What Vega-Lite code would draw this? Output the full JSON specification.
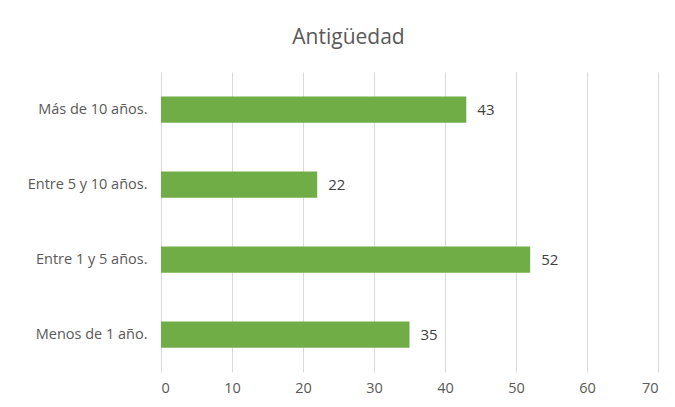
{
  "$schema": "https://vega.github.io/schema/vega-lite/v6.json",
  "width": 497,
  "height": 300,
  "autosize": {"type": "none"},
  "padding": {"left": 161, "top": 72, "right": 17, "bottom": 35},
  "background": "white",
  "title": {"text": "Antigüedad", "font": "Open Sans", "fontSize": 21, "fontWeight": "normal", "color": "#595959", "anchor": "middle", "frame": "group", "dx": -61, "offset": 24},
  "data": {"values": [
    {"cat": "Más de 10 años.", "value": 43},
    {"cat": "Entre 5 y 10 años.", "value": 22},
    {"cat": "Entre 1 y 5 años.", "value": 52},
    {"cat": "Menos de 1 año.", "value": 35}
  ]},
  "encoding": {
    "y": {"field": "cat", "type": "nominal", "sort": null, "title": null,
      "scale": {"paddingInner": 0.65, "paddingOuter": 0.325},
      "axis": {"domain": false, "ticks": false, "labelFont": "Open Sans", "labelFontSize": 14.5, "labelColor": "#595959", "labelPadding": 14}},
    "x": {"field": "value", "type": "quantitative", "title": null,
      "scale": {"domain": [0, 70], "nice": false},
      "axis": {"values": [0,10,20,30,40,50,60,70], "domain": false, "ticks": false, "grid": true, "gridColor": "#d9d9d9", "labelFont": "Open Sans", "labelFontSize": 14.5, "labelColor": "#595959", "labelPadding": 9}}
  },
  "layer": [
    {"mark": {"type": "bar", "color": "#70ad47"}},
    {"mark": {"type": "text", "align": "left", "dx": 11, "font": "Open Sans", "fontSize": 15, "color": "#404040"},
     "encoding": {"text": {"field": "value", "type": "quantitative"}}}
  ],
  "config": {"view": {"stroke": null}}
}
